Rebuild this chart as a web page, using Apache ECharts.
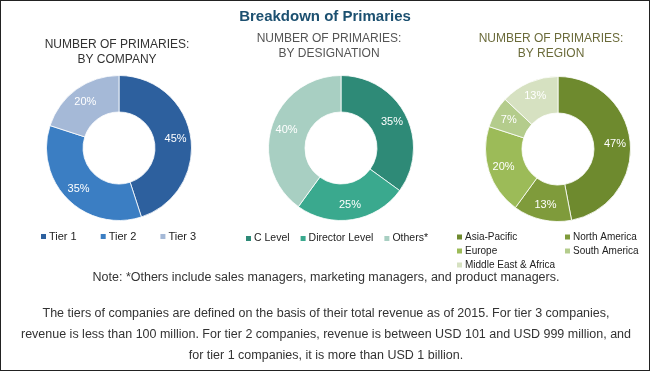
<!DOCTYPE html>
<html><head><meta charset="utf-8">
<script src="https://cdn.jsdelivr.net/npm/echarts@6/dist/echarts.min.js"></script>
<style>html,body{margin:0;padding:0;background:#fff}#c{width:650px;height:371px;box-sizing:border-box;border:1px solid #222}</style>
</head><body><div id="c"></div>
<script>
const companyCats = ['Tier 1','Tier 2','Tier 3'];
const companyVals = [45,35,20];
const desigCats = ['C Level','Director Level','Others*'];
const desigVals = [35,25,40];
const regionCats = ['Asia-Pacific','North America','Europe','South America','Middle East & Africa'];
const regionVals = [47,13,20,7,13];
const companyColors = ['#2d609e','#3b7ec3','#a5b9d7'];
const desigColors = ['#2e8a77','#3aa98e','#a8cfc2'];
const regionColors = ['#6e8a2e','#7f9b3b','#9cbb58','#b4cc8c','#d6e1c1'];
const FONT = "'Liberation Sans Narrow','Arial Narrow','Liberation Sans',sans-serif";

function pie(cats, vals, colors, center){
  return {
    type:'pie', radius:[36,72.5], center:center, startAngle:90, clockwise:true,
    avoidLabelOverlap:false,
    itemStyle:{borderColor:'#fff',borderWidth:0.8},
    label:{show:true,position:'inside',formatter:'{c}%',color:'#fff',fontSize:11,fontFamily:FONT},
    labelLine:{show:false}, emphasis:{disabled:true}, silent:true,
    data:cats.map((n,i)=>({name:n,value:vals[i],itemStyle:{color:colors[i]}}))
  };
}
const legBase = {orient:'horizontal',itemWidth:7,itemHeight:7,icon:'rect',selectedMode:false,
  textStyle:{fontSize:11,color:'#222',fontFamily:FONT,padding:[0,0,0,-3]}};
const smallText = Object.assign({},legBase.textStyle,{fontSize:10});
const chart = echarts.init(document.getElementById('c'));
chart.setOption({
  animation:false,
  textStyle:{fontFamily:FONT},
  title:[
    {text:'Breakdown of Primaries',left:'center',top:3,textStyle:{fontSize:15,fontWeight:'bold',color:'#1c5070',fontFamily:FONT}},
  ],
  graphic:[
    {type:'text',style:{text:'NUMBER OF PRIMARIES:\nBY COMPANY',x:116,y:36,textAlign:'center',fill:'#333',font:"12px "+FONT,lineHeight:15}},
    {type:'text',style:{text:'NUMBER OF PRIMARIES:\nBY DESIGNATION',x:328,y:30,textAlign:'center',fill:'#555',font:"12px "+FONT,lineHeight:15}},
    {type:'text',style:{text:'NUMBER OF PRIMARIES:\nBY REGION',x:550,y:30,textAlign:'center',fill:'#6b6b3a',font:"12px "+FONT,lineHeight:15}},
    {type:'text',style:{text:'Note: *Others include sales managers, marketing managers, and product managers.',x:325,y:270,textAlign:'center',fill:'#333',font:"12.5px "+FONT}},
    {type:'text',style:{text:'The tiers of companies are defined on the basis of their total revenue as of 2015. For tier 3 companies,\nrevenue is less than 100 million. For tier 2 companies, revenue is between USD 101 and USD 999 million, and\nfor tier 1 companies, it is more than USD 1 billion.',x:325,y:302,textAlign:'center',fill:'#333',font:"12.5px "+FONT,lineHeight:21}}
  ],
  legend:[
    Object.assign({},legBase,{data:companyCats,left:33,top:225,itemGap:22}),
    Object.assign({},legBase,{data:desigCats,left:238,top:227,itemGap:9,textStyle:Object.assign({},legBase.textStyle,{fontSize:10.5})}),
    Object.assign({},legBase,{data:['Asia-Pacific'],left:449,top:226,textStyle:smallText}),
    Object.assign({},legBase,{data:['North America'],left:557,top:226,textStyle:smallText}),
    Object.assign({},legBase,{data:['Europe'],left:449,top:240,textStyle:smallText}),
    Object.assign({},legBase,{data:['South America'],left:557,top:240,textStyle:smallText}),
    Object.assign({},legBase,{data:['Middle East & Africa'],left:449,top:254,textStyle:smallText})
  ],
  series:[
    pie(companyCats,companyVals,companyColors,[118,147]),
    pie(desigCats,desigVals,desigColors,[340,147]),
    pie(regionCats,regionVals,regionColors,[557,148])
  ]
});
</script></body></html>
